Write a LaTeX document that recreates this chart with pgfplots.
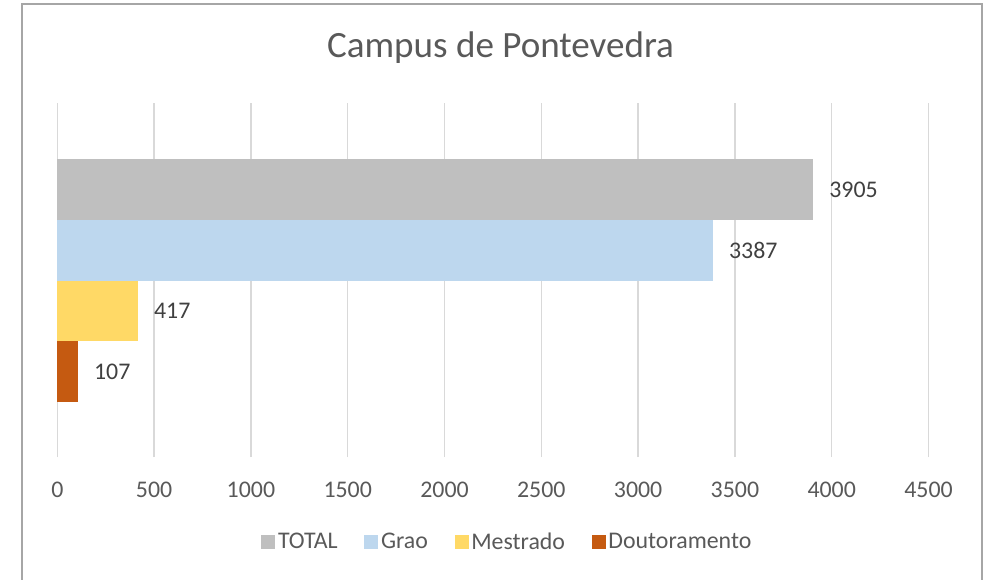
\documentclass[border=0pt]{standalone}
\usepackage{fontspec}
\setmainfont{Carlito}
\usepackage{pgfplots}
\pgfplotsset{compat=1.18}
\definecolor{cTotal}{HTML}{BFBFBF}
\definecolor{cGrao}{HTML}{BDD7EE}
\definecolor{cMest}{HTML}{FFD966}
\definecolor{cDout}{HTML}{C55A11}
\definecolor{txtc}{HTML}{595959}
\definecolor{lblc}{HTML}{404040}
\definecolor{gridc}{HTML}{D9D9D9}
\definecolor{framec}{HTML}{A6A6A6}
\begin{document}
\begin{tikzpicture}
\path[use as bounding box] (0,0) rectangle (744pt,-434.25pt);
\begin{scope}
\clip (0,0) rectangle (744pt,-434.25pt);
\draw[framec, line width=1.3pt] (16.5pt,-440pt) -- (16.5pt,-3pt) -- (736.5pt,-3pt) -- (736.5pt,-440pt);
\end{scope}
\node[txtc, font=\fontsize{27.8}{32}\selectfont] at (375.4pt,-35.5pt) {Campus de Pontevedra};
\begin{axis}[
  at={(42.98pt,-342.75pt)}, anchor=south west,
  scale only axis, width=653.4pt, height=265.5pt,
  xbar, bar width=1, bar shift=0pt,
  xmin=0, xmax=4500, ymin=-1.403, ymax=4.424,
  xtick={0,500,...,4500}, ytick=\empty,
  xmajorgrids, major grid style={draw=gridc, line width=1.1pt},
  axis line style={draw=none},
  major tick length=0pt,
  /pgf/number format/assume math mode=true,
  /pgf/number format/set thousands separator={},
  xticklabel style={txtc, font=\fontsize{17.9}{20}\selectfont, anchor=center, yshift=-24.75pt},
  nodes near coords,
  nodes near coords style={lblc, font=\fontsize{17.9}{20}\selectfont, anchor=west, xshift=8.5pt, /pgf/number format/assume math mode=true},
  legend style={draw=none, fill=none, at={(0.517,-0.240)}, anchor=center, legend columns=-1,
    font=\fontsize{17.9}{20}\selectfont, text=txtc,
    /tikz/every even column/.append style={column sep=18pt}},
  legend image code/.code={\fill[#1] (0pt,-5pt) rectangle (10.5pt,5.5pt);},
  clip=false,
]
\addplot[fill=cTotal, draw=none] coordinates {(3905,3)};
\addlegendentry{TOTAL}
\addplot[fill=cGrao, draw=none] coordinates {(3387,2)};
\addlegendentry{Grao}
\addplot[fill=cMest, draw=none] coordinates {(417,1)};
\addlegendentry{Mestrado}
\addplot[fill=cDout, draw=none] coordinates {(107,0)};
\addlegendentry{Doutoramento}
\end{axis}
\end{tikzpicture}
\end{document}
